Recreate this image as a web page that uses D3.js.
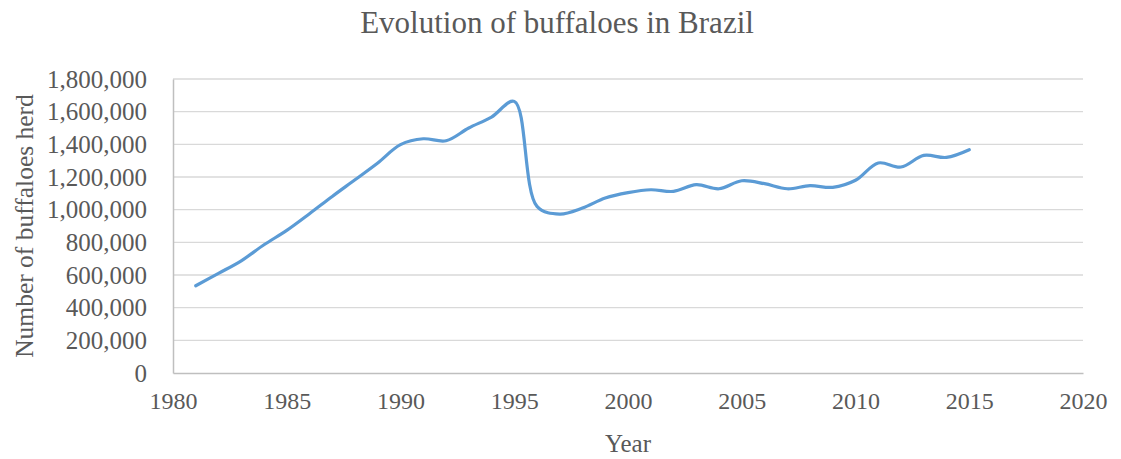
<!DOCTYPE html>
<html>
<head>
<meta charset="utf-8">
<script src="https://cdn.jsdelivr.net/npm/d3@7"></script>
<style>
  body { margin: 0; background: #fff; }
  text { font-family: "Liberation Serif", "Times New Roman", serif; fill: #595959; }
</style>
</head>
<body>
<div id="chart"></div>
<script>
// Buffalo herd in Brazil
const years = [1981, 1982, 1983, 1984, 1985, 1986, 1987, 1988, 1989, 1990,
    1991, 1992, 1993, 1994, 1995, 1996, 1997, 1998, 1999, 2000,
    2001, 2002, 2003, 2004, 2005, 2006, 2007, 2008, 2009, 2010,
    2011, 2012, 2013, 2014, 2015];
const herd = [534000, 610000, 687000, 785000, 873000, 975000, 1081000, 1183000, 1286000, 1398000,
    1434000, 1422000, 1500000, 1567000, 1663000, 1020000, 973000, 1010000, 1071000, 1104000,
    1122000, 1112000, 1153000, 1128000, 1177000, 1159000, 1128000, 1147000, 1137000, 1180000,
    1286000, 1261000, 1332000, 1320000, 1367000];
const xTicks = [1980, 1985, 1990, 1995, 2000, 2005, 2010, 2015, 2020];
const yTicks = [0, 200000, 400000, 600000, 800000, 1000000, 1200000, 1400000, 1600000, 1800000];

const width = 1121, height = 459;
const margin = { top: 79, right: 38, bottom: 86, left: 173 };

const svg = d3.select('#chart')
    .append('svg')
    .attr('width', width)
    .attr('height', height);

const x = d3.scaleLinear()
    .domain([1980, 2020])
    .range([margin.left, width - margin.right]);
const y = d3.scaleLinear()
    .domain([0, 1800000])
    .range([height - margin.bottom, margin.top]);

// gridlines
svg.append('g')
    .selectAll('line')
    .data(yTicks.filter(d => d > 0))
    .enter()
    .append('line')
    .attr('x1', margin.left)
    .attr('x2', width - margin.right)
    .attr('y1', d => y(d))
    .attr('y2', d => y(d))
    .style('stroke', '#d9d9d9')
    .style('stroke-width', 1.3);

// axes
const xAxis = svg.append('g')
    .attr('transform', `translate(0,${y(0)})`)
    .call(d3.axisBottom(x).tickValues(xTicks).tickFormat(d3.format('d')).tickSize(0).tickPadding(19));
const yAxis = svg.append('g')
    .attr('transform', `translate(${margin.left},0)`)
    .call(d3.axisLeft(y).tickValues(yTicks).tickFormat(d3.format(',')).tickSize(0).tickPadding(26));

[xAxis, yAxis].forEach(a => {
    a.select('.domain').style('stroke', '#bfbfbf').style('stroke-width', 1.5);
    a.selectAll('text')
        .style('font-size', '25px')
        .style('fill', '#595959')
        .style('font-family', '"Liberation Serif", serif');
});
xAxis.selectAll('text').style('font-size', '24px');

// the series
const line = d3.line()
    .x((d, i) => x(years[i]))
    .y(d => y(d))
    .curve(d3.curveCatmullRom.alpha(0.5));

svg.append('path')
    .datum(herd)
    .attr('d', line)
    .style('fill', 'none')
    .style('stroke', '#5b9bd5')
    .style('stroke-width', 3.2)
    .style('stroke-linejoin', 'round')
    .style('stroke-linecap', 'round');

// titles
svg.append('text')
    .attr('x', 557)
    .attr('y', 33)
    .style('text-anchor', 'middle')
    .style('font-size', '31px')
    .text('Evolution of buffaloes in Brazil');

svg.append('text')
    .attr('x', (margin.left + width - margin.right) / 2)
    .attr('y', 452)
    .style('text-anchor', 'middle')
    .style('font-size', '25px')
    .text('Year');

svg.append('text')
    .attr('transform', `translate(33,${(y(0) + y(1800000)) / 2}) rotate(-90)`)
    .style('text-anchor', 'middle')
    .style('font-size', '25.5px')
    .text('Number of buffaloes herd');
</script>
</body>
</html>
